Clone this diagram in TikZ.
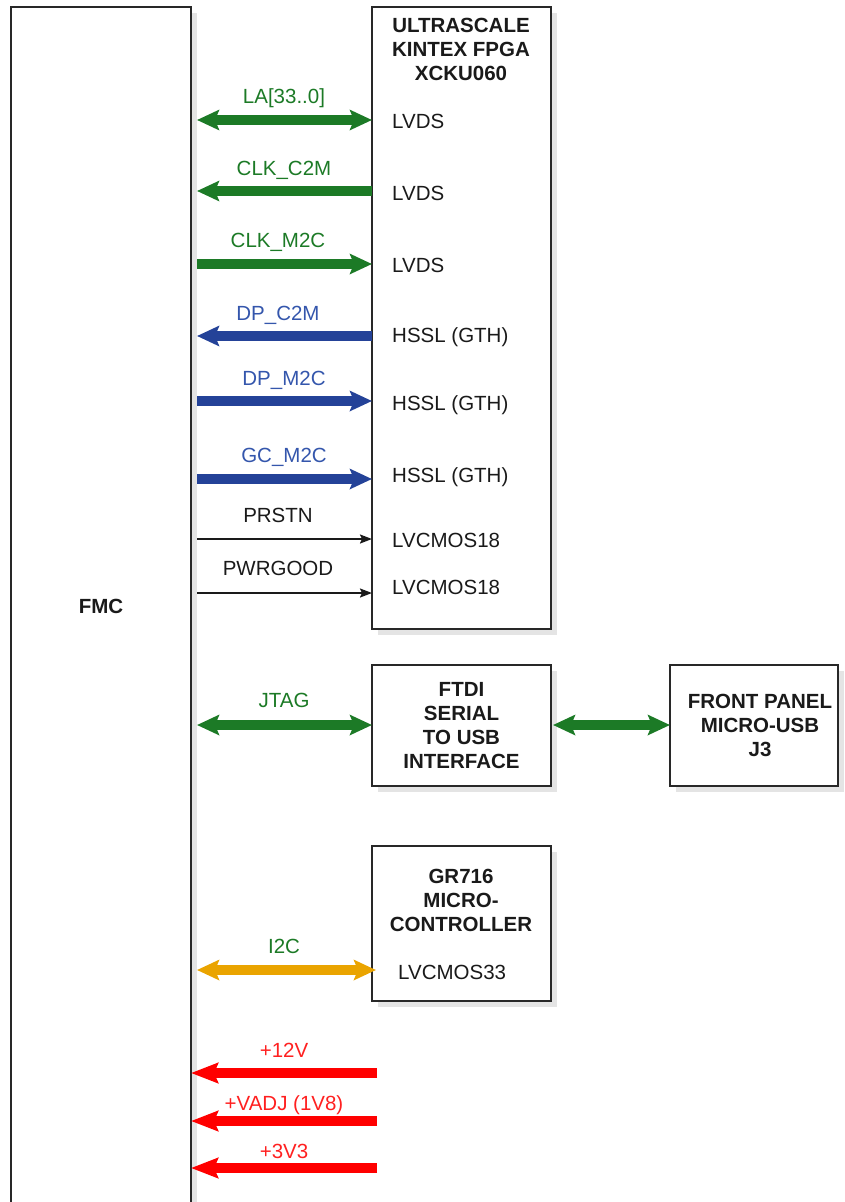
\documentclass[tikz,border=0pt]{standalone}
\usepackage{fontspec}
\setmainfont{Liberation Sans}
\usetikzlibrary{arrows.meta,shadows}
\definecolor{fgreen}{RGB}{28,122,38}
\definecolor{fblue}{RGB}{36,66,152}
\definecolor{lblue}{RGB}{52,86,172}
\definecolor{forange}{RGB}{234,164,0}
\definecolor{fred}{RGB}{255,0,0}
\definecolor{lred}{RGB}{255,32,32}
\definecolor{frame}{RGB}{40,40,40}
\definecolor{shade}{RGB}{228,228,228}
\definecolor{ink}{RGB}{26,26,26}
\tikzset{
  box/.style={draw=frame, line width=1.8pt, fill=white, rectangle, anchor=north west,
    outer sep=0pt, inner sep=0pt, text=ink,
    drop shadow={shadow xshift=6pt, shadow yshift=-6pt, fill=shade, opacity=1}},
  txt/.style={font=\fontsize{20.5}{24}\selectfont, inner sep=0pt, text=ink},
  btxt/.style={font=\fontsize{20.5}{24}\selectfont\bfseries, inner sep=0pt, text=ink, align=center},
  port/.style={txt, anchor=base west},
  sig/.style={txt, anchor=base},
  fatarrow/.style={line width=9.5pt, >={Stealth[length=22pt,width=20pt,inset=4pt]}},
  garr/.style={fatarrow, draw=fgreen},
  barr/.style={fatarrow, draw=fblue},
  oarr/.style={fatarrow, draw=forange},
  rarr/.style={line width=9.5pt, draw=fred, >={Stealth[length=27pt,width=20pt,inset=4pt]}},
  tarr/.style={line width=1.8pt, draw=ink, >={Stealth[length=12pt,width=9pt,inset=2pt]}},
}
\begin{document}
\begin{tikzpicture}[x=1pt,y=-1pt]
\useasboundingbox (0,0) rectangle (845,1202);

% boxes
\node[box, minimum width=180pt, minimum height=1198pt, font=\fontsize{20.5}{24}\selectfont\bfseries] (fmc) at (11,7) {FMC};
\node[box, minimum width=179pt, minimum height=622pt] (fpga) at (372,7) {};
\node[box, minimum width=179pt, minimum height=121pt, font=\fontsize{20.5}{24}\selectfont\bfseries, align=center] (ftdi) at (372,665) {FTDI\\SERIAL\\TO USB\\INTERFACE};
\node[box, minimum width=168pt, minimum height=121pt] (front) at (670,665) {};
\node[box, minimum width=179pt, minimum height=155pt] (gr) at (372,846) {};

% box titles
\node[btxt] (fpgatitle) at (461,49) {ULTRASCALE\\KINTEX FPGA\\XCKU060};
\node[btxt] (fronttitle) at (760,725) {FRONT PANEL\\MICRO-USB\\J3};
\node[btxt] (grtitle) at (461,900) {GR716\\MICRO-\\CONTROLLER};

% port labels
\node[port] (p1) at (392,128) {LVDS};
\node[port] (p2) at (392,200) {LVDS};
\node[port] (p3) at (392,272) {LVDS};
\node[port] (p4) at (392,342) {HSSL (GTH)};
\node[port] (p5) at (392,410) {HSSL (GTH)};
\node[port] (p6) at (392,482) {HSSL (GTH)};
\node[port] (p7) at (392,547) {LVCMOS18};
\node[port] (p8) at (392,594) {LVCMOS18};
\node[port] (p9) at (398,979) {LVCMOS33};

% signal labels
\node[sig, text=fgreen] (s1) at (284,103) {LA[33..0]};
\node[sig, text=fgreen] (s2) at (284,175) {CLK\_C2M};
\node[sig, text=fgreen] (s3) at (278,247) {CLK\_M2C};
\node[sig, text=lblue] (s4) at (278,320) {DP\_C2M};
\node[sig, text=lblue] (s5) at (284,385) {DP\_M2C};
\node[sig, text=lblue] (s6) at (284,462) {GC\_M2C};
\node[sig] (s7) at (278,522) {PRSTN};
\node[sig] (s8) at (278,575) {PWRGOOD};
\node[sig, text=fgreen] (s9) at (284,707) {JTAG};
\node[sig, text=fgreen] (s10) at (284,953) {I2C};
\node[sig, text=lred] (s11) at (284,1057) {+12V};
\node[sig, text=lred] (s12) at (284,1110) {+VADJ (1V8)};
\node[sig, text=lred] (s13) at (284,1158) {+3V3};

% connector levels
\coordinate (fmcR) at ([xshift=6pt]fmc.east);
\coordinate (pwrR) at ([xshift=5pt]fpga.west);
\coordinate (i2cR) at ([xshift=4pt]gr.west);
\coordinate (y1) at (0,120);
\coordinate (y2) at (0,191);
\coordinate (y3) at (0,264);
\coordinate (y4) at (0,336);
\coordinate (y5) at (0,401);
\coordinate (y6) at (0,479);
\coordinate (y7) at (0,539);
\coordinate (y8) at (0,593);
\coordinate (y9) at (0,725);
\coordinate (y10) at (0,970);
\coordinate (y11) at (0,1073);
\coordinate (y12) at (0,1121);
\coordinate (y13) at (0,1168);

% connectors
\draw[garr,<->] (fmcR |- y1) -- (fpga.west |- y1);
\draw[garr,<-] (fmcR |- y2) -- (fpga.west |- y2);
\draw[garr,->] (fmcR |- y3) -- (fpga.west |- y3);
\draw[barr,<-] (fmcR |- y4) -- (fpga.west |- y4);
\draw[barr,->] (fmcR |- y5) -- (fpga.west |- y5);
\draw[barr,->] (fmcR |- y6) -- (fpga.west |- y6);
\draw[tarr,->] (fmcR |- y7) -- (fpga.west |- y7);
\draw[tarr,->] (fmcR |- y8) -- (fpga.west |- y8);
\draw[garr,<->] (fmcR |- y9) -- (ftdi.west |- y9);
\draw[garr,<->] ([xshift=2pt]ftdi.east |- y9) -- (front.west |- y9);
\draw[oarr,<->] (fmcR |- y10) -- (i2cR |- y10);
\draw[rarr,->] (pwrR |- y11) -- (fmc.east |- y11);
\draw[rarr,->] (pwrR |- y12) -- (fmc.east |- y12);
\draw[rarr,->] (pwrR |- y13) -- (fmc.east |- y13);
\end{tikzpicture}
\end{document}
